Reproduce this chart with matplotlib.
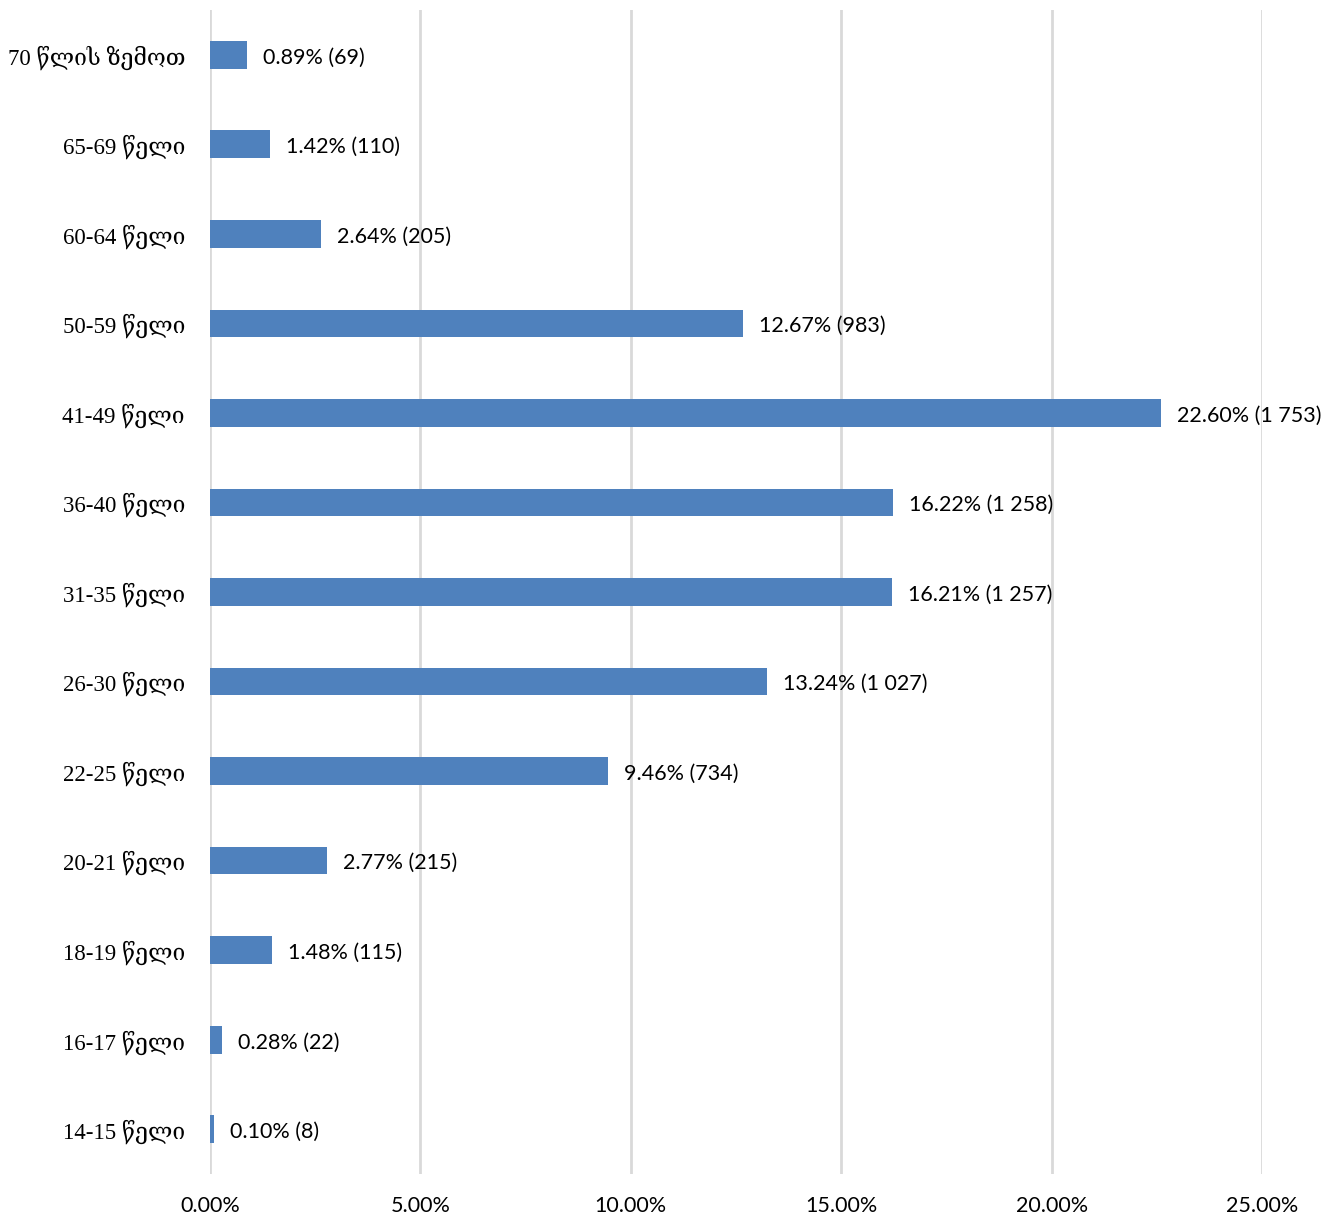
import numpy as np
import matplotlib.pyplot as plt

groups = ["14-15 წელი", "16-17 წელი", "18-19 წელი", "20-21 წელი", "22-25 წელი",
          "26-30 წელი", "31-35 წელი", "36-40 წელი", "41-49 წელი", "50-59 წელი",
          "60-64 წელი", "65-69 წელი", "70 წლის ზემოთ"]
percent = [0.10, 0.28, 1.48, 2.77, 9.46, 13.24, 16.21, 16.22, 22.60, 12.67, 2.64, 1.42, 0.89]
counts = [8, 22, 115, 215, 734, 1027, 1257, 1258, 1753, 983, 205, 110, 69]
xticks = [0, 5, 10, 15, 20, 25]

fig = plt.figure(figsize=(13.28, 12.18), dpi=100)
ax = fig.add_axes([210/1328, 1 - 1174/1218, 1052/1328, 1164/1218])

y = np.arange(len(groups))
ax.barh(y, percent, height=0.31, color="#4f81bd", zorder=3)

for yi, p, c in zip(y, percent, counts):
    cs = f"{c:,}".replace(",", " ")
    ax.text(p + 0.38, yi - 0.03, f"{p:.2f}% ({cs})", va="center", ha="left",
            fontsize=15.5, family=["Lato", "DejaVu Sans"], color="black", zorder=4)

ax.set_xlim(0, 25)
ax.set_ylim(-0.5, len(groups) - 0.5)
ax.set_xticks(xticks)
ax.set_xticklabels([f"{t:.2f}%" for t in xticks], fontsize=15.5, family="Lato")
ax.set_yticks(y)
ax.set_yticklabels(groups, fontsize=16.5, family=["Liberation Serif", "DejaVu Serif"])
ax.tick_params(axis="both", length=0)
ax.tick_params(axis="x", pad=16)
ax.tick_params(axis="y", pad=18)
ax.grid(axis="x", color="#d9d9d9", linewidth=2, zorder=0)
for s in ax.spines.values():
    s.set_visible(False)

fig.savefig("out.png", dpi=100)
